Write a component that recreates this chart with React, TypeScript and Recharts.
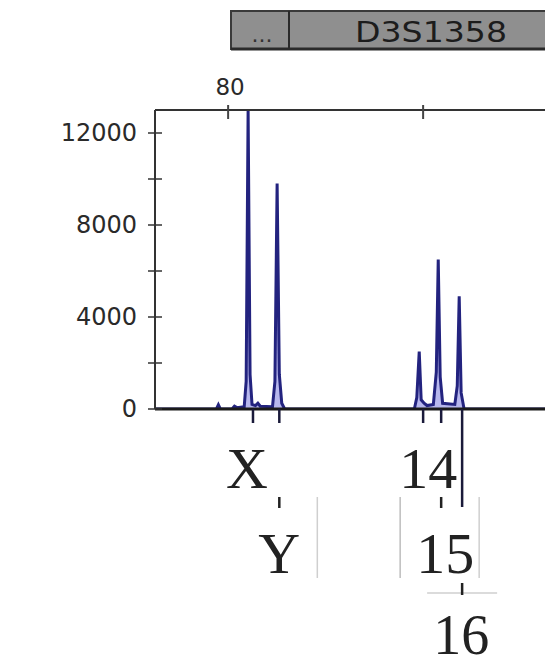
import React from 'react';
import { ComposedChart, Area, XAxis, YAxis } from 'recharts';

// trace (size in bp, height in RFU)
const traceSize = [
  65, 77.6, 78.0, 78.4, 80.8, 81.3, 81.8, 83.3, 83.7, 84.1, 84.5, 84.9, 85.6, 86.1, 86.6,
  89.1, 89.6, 90.05, 90.5, 91.0, 91.6, 118.2, 118.7, 119.2, 119.6, 120.2, 120.8, 122.1,
  122.7, 123.1, 123.5, 124.0, 126.5, 127.0, 127.4, 127.8, 128.4, 145,
];
const traceRfu = [
  0, 0, 180, 0, 0, 120, 60, 100, 1200, 13000, 1500, 200, 150, 250, 120,
  100, 1200, 9800, 1500, 250, 0, 0, 500, 2500, 400, 250, 150, 200,
  1600, 6500, 1400, 250, 200, 1000, 4900, 700, 0, 0,
];

const rfuTicks = [0, 2000, 4000, 6000, 8000, 10000, 12000];
const rfuLabeled = [0, 4000, 8000, 12000];

const sizeTicks = [80, 120];
const sizeTickLabels = ['80', ''];

const alleleNames = ['X', 'Y', '14', '15', '16'];
const alleleSizes = [85.1, 90.5, 120.0, 123.7, 128.0];
const alleleRows = [0, 1, 0, 1, 2];

const markerName = 'D3S1358';

const data = traceSize.map((s, i) => ({ size: s, rfu: traceRfu[i] }));

const W = 545;
const H = 666;
const LABEL_DX = [-6, 0, 5, 4, -1];
const ROW_BASE = [79, 164, 245];

const RfuTick = (props: any) => {
  const { x, y, payload } = props;
  const ax = x + 18;
  const show = rfuLabeled.includes(payload.value);
  return (
    <g>
      <line x1={ax - 7} x2={ax + 7} y1={y} y2={y} stroke="#333" strokeWidth={1.5} />
      {show && (
        <text x={x} y={y + 8} textAnchor="end" fontFamily="DejaVu Sans" fontSize={24} fill="#2a2a2a">
          {payload.value}
        </text>
      )}
    </g>
  );
};

const SizeTick = (props: any) => {
  const { x, y, index } = props;
  const ay = y + 15;
  return (
    <g>
      <line x1={x} x2={x} y1={ay - 5} y2={ay + 9} stroke="#444" strokeWidth={2} />
      <text x={x + 2} y={y} textAnchor="middle" fontFamily="DejaVu Sans" fontSize={23} fill="#2a2a2a">
        {sizeTickLabels[index]}
      </text>
    </g>
  );
};

const AlleleTick = (props: any) => {
  const { x, y, index } = props;
  const row = alleleRows[index];
  const cx = x + LABEL_DX[index];
  const markerLen = row === 2 ? 98 : 14;
  return (
    <g>
      <line x1={x} x2={x} y1={y} y2={y + markerLen} stroke="#1a1a3a" strokeWidth={2.5} />
      {row === 1 && (
        <g>
          <line x1={x} x2={x} y1={y + 88} y2={y + 99} stroke="#222" strokeWidth={2.5} />
          <line x1={x + 38} x2={x + 38} y1={y + 88} y2={y + 169} stroke="#cfcfcf" strokeWidth={1.5} />
          {index > 1 && (
            <line x1={x - 41} x2={x - 41} y1={y + 88} y2={y + 169} stroke="#bdbdbd" strokeWidth={1.5} />
          )}
        </g>
      )}
      {row === 2 && (
        <g>
          <line x1={x - 35} x2={x + 35} y1={y + 184} y2={y + 184} stroke="#cfcfcf" strokeWidth={1.5} />
          <line x1={x} x2={x} y1={y + 174} y2={y + 186} stroke="#222" strokeWidth={2.5} />
        </g>
      )}
      <text
        x={cx}
        y={y + ROW_BASE[row]}
        textAnchor="middle"
        fontFamily="Liberation Serif"
        fontSize={row === 2 ? 56 : 58}
        fill="#222"
      >
        {alleleNames[index]}
      </text>
    </g>
  );
};

export default function App() {
  return (
    <div style={{ position: 'absolute', left: 0, top: 0, width: W, height: H, background: '#fff' }}>
      <svg width={W} height={60} style={{ position: 'absolute', left: 0, top: 0 }}>
        <rect x={231} y={11} width={320} height={38} fill="#8f8f8f" stroke="#3a3a3a" strokeWidth={2} />
        <line x1={231} x2={W} y1={49} y2={49} stroke="#2a2a2a" strokeWidth={3} />
        <line x1={289} x2={289} y1={11} y2={49} stroke="#2a2a2a" strokeWidth={2} />
        <text x={262} y={42} textAnchor="middle" fontFamily="DejaVu Sans" fontSize={22} fill="#333">
          ...
        </text>
        <text
          x={431}
          y={42}
          textAnchor="middle"
          fontFamily="DejaVu Sans"
          fontSize={28}
          fill="#1c1c1c"
          textLength={152}
          lengthAdjust="spacingAndGlyphs"
        >
          {markerName}
        </text>
      </svg>
      <div style={{ position: 'absolute', left: 0, top: 0 }}>
        <ComposedChart width={W} height={H} data={data} margin={{ top: 80, right: 0, left: 95, bottom: 7 }}>
          <XAxis
            xAxisId="top"
            orientation="top"
            type="number"
            dataKey="size"
            domain={[65, 145]}
            ticks={sizeTicks}
            height={30}
            tickSize={0}
            tickMargin={15}
            tickLine={false}
            axisLine={{ stroke: '#333', strokeWidth: 2 }}
            tick={<SizeTick />}
            allowDataOverflow
          />
          <XAxis
            xAxisId="bottom"
            orientation="bottom"
            type="number"
            dataKey="size"
            domain={[65, 145]}
            ticks={alleleSizes}
            height={250}
            tickSize={0}
            tickMargin={0}
            tickLine={false}
            interval={0}
            axisLine={{ stroke: '#1a1a1a', strokeWidth: 3 }}
            tick={<AlleleTick />}
            allowDataOverflow
          />
          <YAxis
            type="number"
            domain={[0, 13000]}
            ticks={rfuTicks}
            width={60}
            tickSize={0}
            tickMargin={18}
            tickLine={false}
            interval={0}
            axisLine={{ stroke: '#333', strokeWidth: 2 }}
            tick={<RfuTick />}
            allowDataOverflow
          />
          <Area
            xAxisId="bottom"
            type="linear"
            dataKey="rfu"
            stroke="#23237f"
            strokeWidth={3}
            fill="#6f6fdc"
            fillOpacity={0.5}
            dot={false}
            isAnimationActive={false}
          />
        </ComposedChart>
      </div>
    </div>
  );
}
